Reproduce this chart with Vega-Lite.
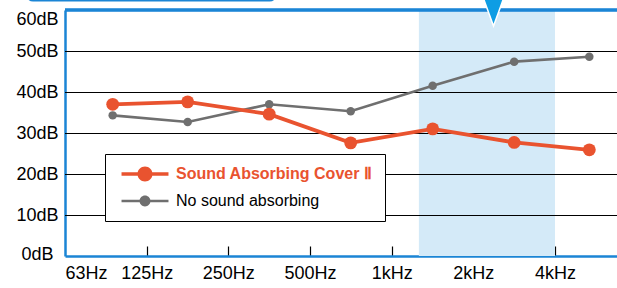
{
  "$schema": "https://vega.github.io/schema/vega-lite/v6.json",
  "width": 552,
  "height": 246,
  "padding": {"left": 65, "top": 10, "right": 0, "bottom": 32},
  "autosize": "none",
  "background": "white",
  "config": {"view": {"stroke": null}, "font": "Liberation Sans"},
  "datasets": {
    "series": [
      {"s": "No sound absorbing", "x": 0.584, "v": 34.3},
      {"s": "No sound absorbing", "x": 1.502, "v": 32.7},
      {"s": "No sound absorbing", "x": 2.5, "v": 37.0},
      {"s": "No sound absorbing", "x": 3.498, "v": 35.3},
      {"s": "No sound absorbing", "x": 4.502, "v": 41.5},
      {"s": "No sound absorbing", "x": 5.5, "v": 47.4},
      {"s": "No sound absorbing", "x": 6.42, "v": 48.6},
      {"s": "Sound Absorbing Cover Ⅱ", "x": 0.584, "v": 37.0},
      {"s": "Sound Absorbing Cover Ⅱ", "x": 1.502, "v": 37.6},
      {"s": "Sound Absorbing Cover Ⅱ", "x": 2.5, "v": 34.6},
      {"s": "Sound Absorbing Cover Ⅱ", "x": 3.498, "v": 27.6},
      {"s": "Sound Absorbing Cover Ⅱ", "x": 4.502, "v": 31.0},
      {"s": "Sound Absorbing Cover Ⅱ", "x": 5.5, "v": 27.7},
      {"s": "Sound Absorbing Cover Ⅱ", "x": 6.42, "v": 25.9}
    ],
    "grid": [{"db": 10}, {"db": 20}, {"db": 30}, {"db": 40}, {"db": 50}],
    "band": [{"from": 4.333, "to": 6}],
    "tab": [{"x0": -0.465, "x1": 2.58, "y0": 62.3, "y1": 75}],
    "marker": [{"x": 5.247, "y": 62.44}]
  },
  "layer": [
    {
      "data": {"name": "band"},
      "mark": {"type": "rect", "color": "#d4eaf8"},
      "encoding": {
        "x": {"field": "from", "type": "quantitative", "title": null, "scale": {"domain": [0, 6.759], "nice": false, "zero": false},
          "axis": {
            "values": [0, 1, 2, 3, 4, 5, 6],
            "labelExpr": "['63Hz','125Hz','250Hz','500Hz','1kHz','2kHz','4kHz'][datum.value]",
            "labelAlign": {"condition": {"test": "datum.value == 0", "value": "left"}, "value": "center"},
            "tickOpacity": {"condition": {"test": "datum.value == 0", "value": 0}, "value": 1},
            "tickSize": -10, "tickColor": "black", "tickWidth": 1.2,
            "labelPadding": 18, "labelFontSize": 18, "labelColor": "black", "labelFont": "Liberation Sans",
            "labelBaseline": "top", "labelFlush": false, "labelOverlap": false,
            "domainColor": "#1b85d5", "domainWidth": 2.5, "grid": false, "title": null
          }},
        "x2": {"field": "to"},
        "y": {"datum": 0, "type": "quantitative", "title": null, "scale": {"domain": [0, 60], "nice": false, "zero": false},
          "axis": {
            "values": [0, 10, 20, 30, 40, 50, 60],
            "labelExpr": "datum.value + 'dB'",
            "ticks": false, "grid": false,
            "labelPadding": {"condition": {"test": "datum.value == 0", "value": 12}, "value": 7},
            "labelBaseline": {"condition": {"test": "datum.value == 60", "value": "top"}, "value": "middle"},
            "labelOffset": {"condition": {"test": "datum.value == 0", "value": -2}, "value": 0},
            "labelFontSize": 18, "labelColor": "black", "labelFont": "Liberation Sans",
            "labelFlush": false, "labelOverlap": false,
            "domainColor": "#1b85d5", "domainWidth": 2.5, "title": null
          }},
        "y2": {"datum": 60}
      }
    },
    {
      "data": {"name": "grid"},
      "mark": {"type": "rule", "color": "black", "strokeWidth": 1, "yOffset": 0.5},
      "encoding": {"y": {"field": "db", "type": "quantitative", "title": null}}
    },
    {
      "data": {"name": "grid"},
      "mark": {"type": "rule", "color": "#1b85d5", "strokeWidth": 2.5},
      "encoding": {"y": {"datum": 60, "type": "quantitative", "title": null}}
    },
    {
      "data": {"name": "series"},
      "transform": [{"filter": "datum.s == 'No sound absorbing'"}],
      "mark": {"type": "line", "strokeWidth": 2.6},
      "encoding": {
        "x": {"field": "x", "type": "quantitative", "title": null},
        "y": {"field": "v", "type": "quantitative", "title": null},
        "color": {"field": "s", "type": "nominal", "scale": {"domain": ["Sound Absorbing Cover Ⅱ", "No sound absorbing"], "range": ["#e9532f", "#6f6f6f"]},
          "legend": {
            "orient": "none", "legendX": 40, "legendY": 144, "title": null,
            "fillColor": "white", "strokeColor": "black", "padding": 12,
            "symbolSize": 225, "symbolOffset": 20, "labelOffset": 23, "rowPadding": 11,
            "symbolType": "M -3.13 -0.23 L 3.13 -0.23 L 3.13 0.23 L -3.13 0.23 Z M 1 0 A 1 1 0 1 1 -1 0 A 1 1 0 1 1 1 0 Z",
            "labelFontSize": 16, "labelFont": "Liberation Sans", "labelColor": "black", "labelLimit": 400,
            "encode": {
              "symbols": {"update": {
                "shape": {"signal": "datum.value == 'No sound absorbing' ? 'M -3.13 -0.17 L 3.13 -0.17 L 3.13 0.17 L -3.13 0.17 Z M 0.73 0 A 0.73 0.73 0 1 1 -0.73 0 A 0.73 0.73 0 1 1 0.73 0 Z' : 'M -3.13 -0.23 L 3.13 -0.23 L 3.13 0.23 L -3.13 0.23 Z M 1 0 A 1 1 0 1 1 -1 0 A 1 1 0 1 1 1 0 Z'"},
                "fill": {"signal": "datum.value == 'No sound absorbing' ? '#6f6f6f' : '#e9532f'"},
                "stroke": {"value": "transparent"},
                "strokeWidth": {"value": 0},
                "opacity": {"value": 1}
              }},
              "labels": {"update": {
                "fill": {"signal": "datum.value == 'No sound absorbing' ? 'black' : '#e9532f'"},
                "fontWeight": {"signal": "datum.value == 'No sound absorbing' ? 'normal' : 'bold'"}
              }}
            }
          }}
      }
    },
    {
      "data": {"name": "series"},
      "transform": [{"filter": "datum.s == 'No sound absorbing'"}],
      "mark": {"type": "point", "filled": true, "opacity": 1, "size": 72},
      "encoding": {
        "x": {"field": "x", "type": "quantitative", "title": null},
        "y": {"field": "v", "type": "quantitative", "title": null},
        "color": {"field": "s", "type": "nominal"}
      }
    },
    {
      "data": {"name": "series"},
      "transform": [{"filter": "datum.s != 'No sound absorbing'"}],
      "mark": {"type": "line", "strokeWidth": 3.8},
      "encoding": {
        "x": {"field": "x", "type": "quantitative", "title": null},
        "y": {"field": "v", "type": "quantitative", "title": null},
        "color": {"field": "s", "type": "nominal"}
      }
    },
    {
      "data": {"name": "series"},
      "transform": [{"filter": "datum.s != 'No sound absorbing'"}],
      "mark": {"type": "point", "filled": true, "opacity": 1, "size": 165},
      "encoding": {
        "x": {"field": "x", "type": "quantitative", "title": null},
        "y": {"field": "v", "type": "quantitative", "title": null},
        "color": {"field": "s", "type": "nominal"}
      }
    },
    {
      "data": {"name": "tab"},
      "mark": {"type": "rect", "fill": "white", "stroke": "#1b85d5", "strokeWidth": 2, "cornerRadius": 6, "clip": false},
      "encoding": {
        "x": {"field": "x0", "type": "quantitative", "title": null},
        "x2": {"field": "x1"},
        "y": {"field": "y0", "type": "quantitative", "title": null},
        "y2": {"field": "y1"}
      }
    },
    {
      "data": {"name": "marker"},
      "mark": {"type": "point", "filled": true, "opacity": 1, "color": "#0e9de4", "stroke": "white", "strokeWidth": 1.5, "size": 2704,
        "shape": "M -0.73 -1 L 0.73 -1 L 0 1 Z", "clip": false},
      "encoding": {
        "x": {"field": "x", "type": "quantitative", "title": null},
        "y": {"field": "y", "type": "quantitative", "title": null}
      }
    }
  ]
}
